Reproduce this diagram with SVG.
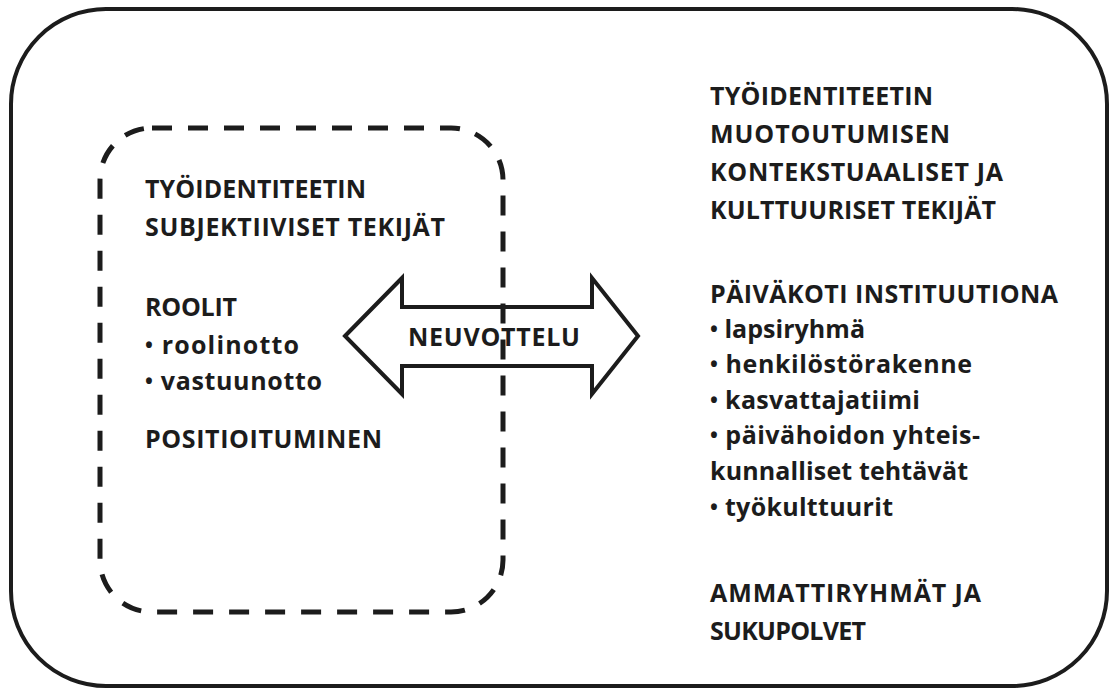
<svg xmlns="http://www.w3.org/2000/svg" width="1117" height="692" viewBox="0 0 1117 692">
<style>
.t{font-family:"Open Sans","Liberation Sans",sans-serif;font-weight:bold;font-size:25px;fill:#1c1c1c}
.b{font-size:21px}
.frame{fill:none;stroke:#1c1c1c;stroke-width:4}
.dash{fill:none;stroke:#1c1c1c;stroke-width:5;stroke-dasharray:20 16}
</style>
<rect width="1117" height="692" fill="#fff"/>
<g id="outer"><rect class="frame" x="11" y="9" width="1096" height="677" rx="95" ry="95"/></g>
<g id="right-text">
<text class="t" x="710" y="104.5" textLength="223">TYÖIDENTITEETIN</text>
<text class="t" x="710" y="142.5" textLength="240">MUOTOUTUMISEN</text>
<text class="t" x="710" y="180.5" textLength="293">KONTEKSTUAALISET JA</text>
<text class="t" x="710" y="218.5" textLength="286">KULTTUURISET TEKIJÄT</text>
<text class="t" x="710" y="303" textLength="348">PÄIVÄKOTI INSTITUUTIONA</text>
<text class="t" x="710" y="338" textLength="155"><tspan class="b" dy="-1">•</tspan><tspan dy="1"> lapsiryhmä</tspan></text>
<text class="t" x="710" y="373" textLength="262"><tspan class="b" dy="-1">•</tspan><tspan dy="1"> henkilöstörakenne</tspan></text>
<text class="t" x="710" y="409" textLength="210"><tspan class="b" dy="-1">•</tspan><tspan dy="1"> kasvattajatiimi</tspan></text>
<text class="t" x="710" y="444" textLength="270"><tspan class="b" dy="-1">•</tspan><tspan dy="1"> päivähoidon yhteis-</tspan></text>
<text class="t" x="710" y="480" textLength="258">kunnalliset tehtävät</text>
<text class="t" x="710" y="516" textLength="183"><tspan class="b" dy="-1">•</tspan><tspan dy="1"> työkulttuurit</tspan></text>
<text class="t" x="710" y="602" textLength="271">AMMATTIRYHMÄT JA</text>
<text class="t" x="710" y="640" textLength="156">SUKUPOLVET</text>
</g>
<g id="arrow">
<path class="frame" d="M345,336 L402,278 L402,307 L592,307 L592,278 L638,336 L592,394 L592,366 L402,366 L402,394 Z" fill="#fff"/>
<text class="t" x="408" y="346" textLength="172">NEUVOTTELU</text>
</g>
<g id="left-text">
<text class="t" x="145" y="197.5" textLength="221">TYÖIDENTITEETIN</text>
<text class="t" x="145" y="235.5" textLength="300">SUBJEKTIIVISET TEKIJÄT</text>
<text class="t" x="145" y="316" textLength="92">ROOLIT</text>
<text class="t" x="145" y="354" textLength="154"><tspan class="b" dy="-1">•</tspan><tspan dy="1"> roolinotto</tspan></text>
<text class="t" x="145" y="390" textLength="177"><tspan class="b" dy="-1">•</tspan><tspan dy="1"> vastuunotto</tspan></text>
<text class="t" x="145" y="448" textLength="237">POSITIOITUMINEN</text>
</g>
<g id="subjective-box"><rect class="dash" x="100" y="128" width="403" height="484" rx="52" ry="52"/></g>
</svg>
